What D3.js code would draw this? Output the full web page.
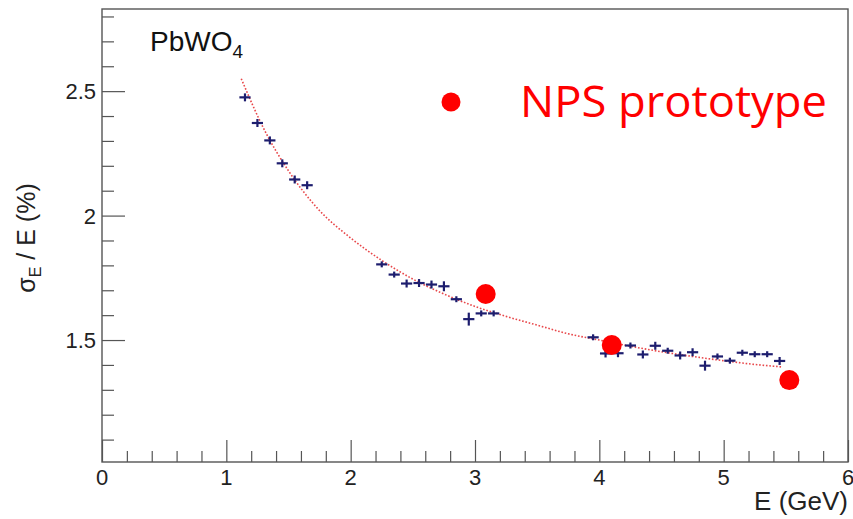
<!DOCTYPE html>
<html><head><meta charset="utf-8">
<script src="https://cdn.jsdelivr.net/npm/d3@7"></script>
<style>body{margin:0;background:#fff}svg{display:block}</style>
</head><body>
<svg id="c" width="853" height="519"></svg>
<script>
// Measured PbWO4 data (energy in GeV, resolution in %)
const measE = [1.15,1.25,1.35,1.45,1.55,1.65,
  2.25,2.35,2.45,2.55,2.65,2.75,2.85,2.95,3.05,3.15,
  3.95,4.05,4.15,4.25,4.35,4.45,4.55,4.65,4.75,4.85,4.95,5.05,5.15,5.25,5.35,5.45];
const measRes = [2.475,2.372,2.302,2.21,2.145,2.122,
  1.804,1.763,1.727,1.729,1.723,1.716,1.664,1.584,1.607,1.607,
  1.511,1.446,1.447,1.478,1.442,1.477,1.457,1.438,1.451,1.397,1.434,1.417,1.449,1.443,1.443,1.416];
const measErrY = [0.016,0.016,0.016,0.016,0.016,0.016,
  0.012,0.012,0.016,0.016,0.016,0.02,0.012,0.026,0.012,0.012,
  0.012,0.016,0.016,0.012,0.016,0.016,0.012,0.016,0.016,0.02,0.012,0.012,0.012,0.012,0.012,0.016];
const measErrX = 0.045;
// Fit curve
const fitE = [1.12,1.3,1.5,1.75,2,2.25,2.5,2.75,3,3.25,3.5,3.75,4,4.25,4.5,4.75,5,5.25,5.47];
const fitRes = [2.55,2.35,2.18,2.02,1.91,1.82,1.745,1.685,1.635,1.595,1.56,1.525,1.50,1.475,1.453,1.434,1.417,1.402,1.392];
// NPS prototype points
const npsE = [3.086,4.10,5.528];
const npsRes = [1.685,1.480,1.339];
// Axes
const xTicks = [0,1,2,3,4,5,6];
const yTicks = [1.5,2,2.5];

const svg = d3.select('#c');
const L=102,R=848,T=9,B=462;
const x = d3.scaleLinear().domain([0,6]).range([L,R]);
const y = d3.scaleLinear().domain([1.01,2.83]).range([B,T]);
const axisCol = '#555';
const font = 'Liberation Sans, Arial, Helvetica, sans-serif';

// frame
svg.append('rect').attr('x',L).attr('y',T).attr('width',R-L).attr('height',B-T)
  .attr('fill','none').attr('stroke',axisCol).attr('stroke-width',1.4);

// x axis
const xAx = d3.axisTop(x).tickValues(d3.range(0,6.001,0.2)).tickSizeOuter(0)
  .tickSize(0).tickFormat('');
const gx = svg.append('g').attr('transform',`translate(0,${B})`).call(xAx);
gx.select('.domain').remove();
gx.selectAll('.tick').append('line')
  .attr('y2',d=> Math.abs(d-Math.round(d))<1e-6 ? -22 : -11)
  .attr('stroke',axisCol).attr('stroke-width',1.2);
svg.append('g').selectAll('text').data(xTicks).join('text')
  .attr('x',d=>x(d)).attr('y',B+23).attr('text-anchor','middle')
  .attr('font-family',font).attr('font-size',22).attr('fill','#222').text(d=>d);

// y axis
const yAx = d3.axisRight(y).tickValues(d3.range(1.1,2.81,0.1)).tickSize(0).tickFormat('');
const gy = svg.append('g').attr('transform',`translate(${L},0)`).call(yAx);
gy.select('.domain').remove();
gy.selectAll('.tick').append('line')
  .attr('x2',d=> Math.abs(d*2-Math.round(d*2))<1e-6 ? 23 : 12)
  .attr('stroke',axisCol).attr('stroke-width',1.2);
svg.append('g').selectAll('text').data(yTicks).join('text')
  .attr('x',L-6).attr('y',d=>y(d)+8).attr('text-anchor','end')
  .attr('font-family',font).attr('font-size',22).attr('fill','#222').text(d=>d);

// axis titles
svg.append('text').attr('x',R).attr('y',510).attr('text-anchor','end')
  .attr('font-family',font).attr('font-size',26).attr('fill','#222').text('E (GeV)');
const yt = svg.append('text').attr('transform','translate(35,238) rotate(-90)')
  .attr('text-anchor','middle').attr('font-family',font).attr('font-size',25).attr('fill','#222');
yt.append('tspan').text('σ');
yt.append('tspan').attr('font-size',16).attr('dy',6).text('E');
yt.append('tspan').attr('dy',-6).text(' / E (%)');

// PbWO4 label
const pb = svg.append('text').attr('x',150).attr('y',51).attr('font-family',font)
  .attr('font-size',28).attr('fill','#111');
pb.append('tspan').text('PbWO');
pb.append('tspan').attr('font-size',19).attr('dy',7).text('4');

// fit curve
svg.append('path').datum(fitE.map((e,i)=>[e,fitRes[i]]))
  .attr('d',d3.line().x(d=>x(d[0])).y(d=>y(d[1])).curve(d3.curveMonotoneX))
  .attr('fill','none').attr('stroke','#e8474a').attr('stroke-width',1.6)
  .attr('stroke-dasharray','1.6,1.8');

// measured crosses
const meas = measE.map((e,i)=>({e,r:measRes[i],ey:measErrY[i]}));
const gm = svg.append('g').attr('stroke','#1d1d6e').attr('stroke-width',2.2);
gm.selectAll('.h').data(meas).join('line')
  .attr('x1',d=>x(d.e-measErrX)).attr('x2',d=>x(d.e+measErrX))
  .attr('y1',d=>y(d.r)).attr('y2',d=>y(d.r));
gm.selectAll('.v').data(meas).join('line')
  .attr('x1',d=>x(d.e)).attr('x2',d=>x(d.e))
  .attr('y1',d=>y(d.r+d.ey)).attr('y2',d=>y(d.r-d.ey));

// NPS points
svg.append('g').selectAll('circle').data(npsE.map((e,i)=>[e,npsRes[i]])).join('circle')
  .attr('cx',d=>x(d[0])).attr('cy',d=>y(d[1])).attr('r',10).attr('fill','#ff0000');

// legend
svg.append('circle').attr('cx',451).attr('cy',102).attr('r',9.5).attr('fill','#ff0000');
svg.append('text').attr('x',520).attr('y',117).attr('font-family','Open Sans, Noto Sans, sans-serif')
  .attr('font-size',44).attr('fill','#ff0000').attr('textLength',307)
  .attr('lengthAdjust','spacingAndGlyphs').text('NPS prototype');
</script>
</body></html>
